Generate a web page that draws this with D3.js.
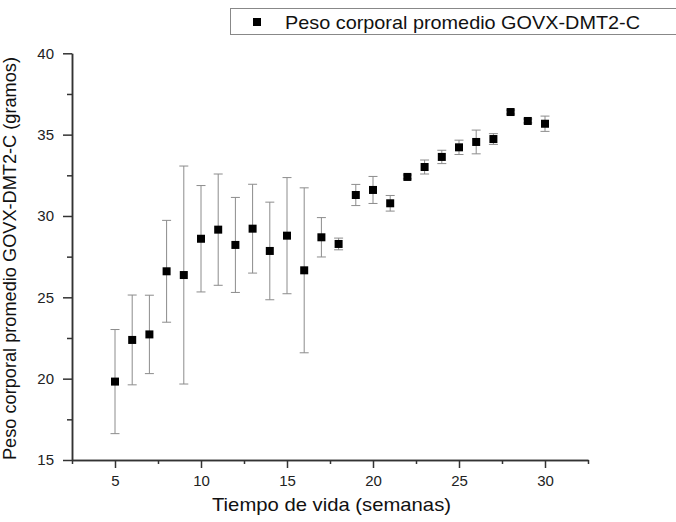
<!DOCTYPE html>
<html>
<head>
<meta charset="utf-8">
<script src="https://cdn.jsdelivr.net/npm/d3@7"></script>
<style>
  body { margin: 0; background: #fff; }
  svg { display: block; font-family: "Liberation Sans", Arial, sans-serif; }
  .axis path, .axis line { stroke: #333; stroke-width: 1.5px; }
  .axis text { fill: #222; font-size: 15px; }
</style>
</head>
<body>
<div id="chart"></div>
<script>
// Data

const semanas = [5, 6, 7, 8, 9, 10, 11, 12, 13, 14, 15, 16, 17, 18, 19, 20, 21, 22, 23, 24, 25, 26, 27, 28, 29, 30];
const peso = [19.82, 22.38, 22.72, 26.6, 26.37, 28.6, 29.16, 28.22, 29.22, 27.85, 28.79, 26.66, 28.69, 28.28,
  31.29, 31.6, 30.78, 32.4, 33.01, 33.63, 34.22, 34.55, 34.73, 36.39, 35.84, 35.67];
const errorPeso = [3.2, 2.76, 2.41, 3.13, 6.7, 3.27, 3.42, 2.92, 2.73, 3.0, 3.57, 5.07, 1.21, 0.36,
  0.65, 0.83, 0.48, 0.12, 0.43, 0.41, 0.44, 0.73, 0.33, 0.12, 0.12, 0.47];

const xTicks = [5, 10, 15, 20, 25, 30];
const xMinor = [2.5, 7.5, 12.5, 17.5, 22.5, 27.5, 32.5];
const yTicks = [15, 20, 25, 30, 35, 40];
const yMinor = [17.5, 22.5, 27.5, 32.5, 37.5];

const serieNombre = 'Peso corporal promedio GOVX-DMT2-C';
const xTitulo = 'Tiempo de vida (semanas)';
const yTitulo = 'Peso corporal promedio GOVX-DMT2-C (gramos)';

const width = 676;
const height = 522;
const margin = { top: 53.3, right: 88, bottom: 62, left: 72 };

const svg = d3.select('#chart').append('svg')
  .attr('width', width)
  .attr('height', height);

const xScale = d3.scaleLinear().domain([2.5, 32.5]).range([margin.left, width - margin.right]);
const yScale = d3.scaleLinear().domain([15, 40]).range([height - margin.bottom, margin.top]);

// minor ticks first, then major axes on top

svg.append('g')
  .attr('class', 'axis')
  .attr('transform', `translate(0, ${yScale(15)})`)
  .call(d3.axisBottom(xScale).tickValues(xMinor).tickSize(4).tickSizeOuter(0).tickFormat(''));

svg.append('g')
  .attr('class', 'axis')
  .attr('transform', `translate(${xScale(2.5)}, 0)`)
  .call(d3.axisLeft(yScale).tickValues(yMinor).tickSize(5).tickSizeOuter(0).tickFormat(''));

svg.append('g')
  .attr('class', 'axis')
  .attr('transform', `translate(0, ${yScale(15)})`)
  .call(d3.axisBottom(xScale).tickValues(xTicks).tickSize(8).tickSizeOuter(0).tickPadding(7));

svg.append('g')
  .attr('class', 'axis')
  .attr('transform', `translate(${xScale(2.5)}, 0)`)
  .call(d3.axisLeft(yScale).tickValues(yTicks).tickSize(9).tickSizeOuter(0).tickPadding(9));

// error bars

const bars = svg.append('g')
  .selectAll('g')
  .data(semanas)
  .enter()
  .append('g')
  .attr('stroke', '#8c8c8c')
  .attr('stroke-width', 1);

bars.append('line')
  .attr('x1', d => xScale(d))
  .attr('x2', d => xScale(d))
  .attr('y1', (d, i) => yScale(peso[i] + errorPeso[i]))
  .attr('y2', (d, i) => yScale(peso[i] - errorPeso[i]));

bars.append('line')
  .attr('x1', d => xScale(d) - 4.5)
  .attr('x2', d => xScale(d) + 4.5)
  .attr('y1', (d, i) => yScale(peso[i] + errorPeso[i]))
  .attr('y2', (d, i) => yScale(peso[i] + errorPeso[i]));

bars.append('line')
  .attr('x1', d => xScale(d) - 4.5)
  .attr('x2', d => xScale(d) + 4.5)
  .attr('y1', (d, i) => yScale(peso[i] - errorPeso[i]))
  .attr('y2', (d, i) => yScale(peso[i] - errorPeso[i]));

// square markers

const size = 8;
svg.append('g')
  .selectAll('rect')
  .data(semanas)
  .enter()
  .append('rect')
  .attr('x', d => xScale(d) - size / 2)
  .attr('y', (d, i) => yScale(peso[i]) - size / 2)
  .attr('width', size)
  .attr('height', size)
  .attr('fill', '#000');

// axis titles (the original is a bit wider than Liberation Sans, hence textLength)

svg.append('text')
  .attr('x', 212)
  .attr('y', 511)
  .attr('font-size', 18.5)
  .attr('textLength', 239)
  .attr('lengthAdjust', 'spacingAndGlyphs')
  .attr('fill', '#111')
  .text(xTitulo);

svg.append('text')
  .attr('transform', 'translate(16, 460) rotate(-90)')
  .attr('font-size', 18)
  .attr('textLength', 403)
  .attr('lengthAdjust', 'spacingAndGlyphs')
  .attr('fill', '#111')
  .text(yTitulo);

// legend

const legend = svg.append('g');
legend.append('rect')
  .attr('x', 230.5)
  .attr('y', 8.5)
  .attr('width', 460)
  .attr('height', 26)
  .attr('fill', '#fff')
  .attr('stroke', '#888')
  .attr('stroke-width', 1);

legend.append('rect')
  .attr('x', 257 - size / 2)
  .attr('y', 22 - size / 2)
  .attr('width', size)
  .attr('height', size)
  .attr('fill', '#000');

legend.append('text')
  .attr('x', 285)
  .attr('y', 28.5)
  .attr('font-size', 18.5)
  .attr('textLength', 355)
  .attr('lengthAdjust', 'spacingAndGlyphs')
  .attr('fill', '#111')
  .text(serieNombre);
</script>
</body>
</html>
